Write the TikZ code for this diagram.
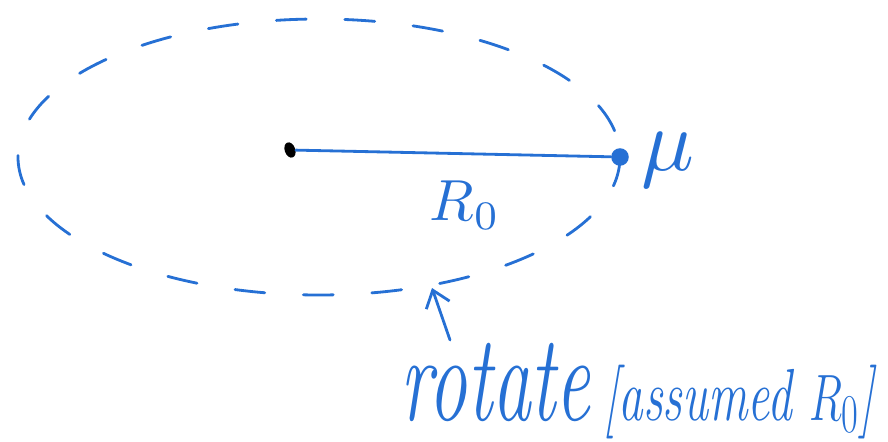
\documentclass[tikz,border=0pt]{standalone}
\usepackage{xcolor}
\usepackage{graphicx}
\usetikzlibrary{positioning,arrows.meta,shapes.geometric}
\definecolor{penblue}{RGB}{38,112,212}

\begin{document}
\begin{tikzpicture}[
	x=0.02cm, y=-0.02cm,
	orbit/.style={draw=penblue, line width=1.6pt, dash pattern=on 17pt off 22pt, line cap=round},
	radius/.style={draw=penblue, line width=1.6pt, line cap=round},
	pen/.style={text=penblue, inner sep=0pt},
	arrow/.style={-{Straight Barb[length=9pt,width=14pt]}, draw=penblue, line width=1.6pt, line cap=round}
]
\useasboundingbox (0,0) rectangle (888,442);
\draw [orbit] (319,157) ellipse [x radius=301, y radius=138];
\node (ctr) [fill=black, ellipse, minimum width=6pt, minimum height=9pt, inner sep=0pt, rotate=20] at (290,150) {};
\node (mass) [fill=penblue, circle, minimum size=10pt, inner sep=0pt] at (620,157) {};
\node (mu) [pen] at (668,160) {\scalebox{5}{$\mu$}};
\node (rlabel) [pen] at (465,205) {\scalebox{3.3}{$R_0$}};
\node (note) [pen, anchor=base west, font=\fontsize{44}{44}\selectfont\itshape] at (400,420) {\scalebox{1}[1.6]{rotate}\,{\fontsize{28}{28}\selectfont\scalebox{1}[1.5]{[assumed $R_0$]}}};
\coordinate (tail) at (450,340);
\coordinate (hit) at (432,288);
\draw [radius] (ctr) -- (mass);
\draw [arrow] (tail) -- (hit);
\end{tikzpicture}
\end{document}
